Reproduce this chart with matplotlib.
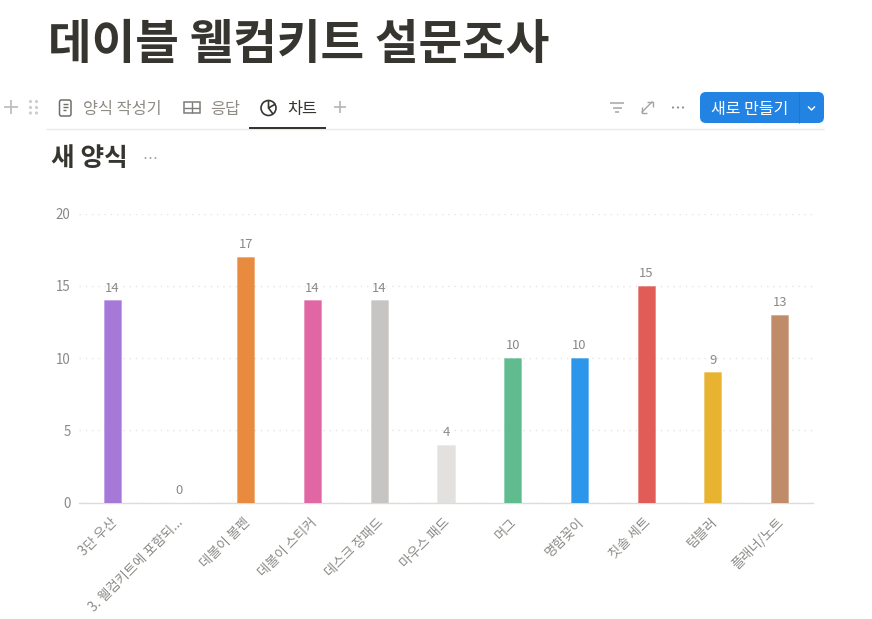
import matplotlib
matplotlib.use('Agg')
import matplotlib.pyplot as plt
from matplotlib.patches import Circle, FancyBboxPatch, Rectangle
from matplotlib.transforms import ScaledTranslation

plt.rcParams['font.family'] = ['Noto Sans CJK KR', 'DejaVu Sans']

W, H = 872, 619

categories = ['3단 우산', '3. 웰컴키트에 포함되...', '데볼이 볼펜', '데볼이 스티커', '데스크 장패드',
              '마우스 패드', '머그', '명함꽂이', '칫솔 세트', '텀블러', '플래너/노트']
values = [14, 0, 17, 14, 14, 4, 10, 10, 15, 9, 13]
colors = ['#a678d8', '#a678d8', '#e98b3f', '#e066a4', '#c6c5c3', '#e2e1df',
          '#60bb8e', '#2b96ea', '#e25c57', '#e8b330', '#bf8b68']
yticks = [0, 5, 10, 15, 20]
tabs = ['양식 작성기', '응답', '차트']

TEXT = '#37352f'
GREY = '#8a8985'
ICON = '#a5a4a1'


def pt(px):
    return px * 72 / 100


fig = plt.figure(figsize=(W / 100, H / 100), dpi=100, facecolor='white')

# page chrome lives in a pixel-coordinate overlay
ui = fig.add_axes([0, 0, 1, 1])
ui.set_xlim(0, W)
ui.set_ylim(H, 0)
ui.axis('off')

ui.text(48, 45, '데이블 웰컴키트 설문조사', fontsize=pt(47.5), fontweight='bold', color=TEXT,
        va='center', ha='left')
ui.text(51, 159, '새 양식', fontsize=pt(25.7), fontweight='bold', color=TEXT, va='center', ha='left')


def line(xs, ys, color=ICON, lw=1.1):
    ui.plot(xs, ys, color=color, lw=lw, solid_capstyle='butt')


for dx in (145.5, 150.5, 155.5):
    ui.add_patch(Circle((dx, 158), 1.0, color='#a5a4a1', lw=0))

# add block + drag handle
line([4, 18], [107, 107], '#c0bfbc', 1.3)
line([11, 11], [100, 114], '#c0bfbc', 1.3)
for dx in (30.5, 36.5):
    for dy in (101.5, 107.5, 113):
        ui.add_patch(Circle((dx, dy), 1.6, color='#cfcecb', lw=0))

# form icon
ui.add_patch(FancyBboxPatch((59.5, 100), 11.5, 16, boxstyle='round,pad=0,rounding_size=2',
                            fc='none', ec='#6f6e6a', lw=1.1))
line([62.5, 68], [104, 104], '#6f6e6a', 1)
line([62.5, 68], [107, 107], '#6f6e6a', 1)
line([62.5, 65.5], [110, 110], '#6f6e6a', 1)
ui.text(83, 109.5, tabs[0], fontsize=pt(16.3), color='#8f8b85', va='center', ha='left')

# table icon
ui.add_patch(Rectangle((184, 102), 16, 11, fc='none', ec='#7d7c78', lw=1.1))
line([184, 200], [107.5, 107.5], '#7d7c78', 1)
line([192, 192], [102, 113], '#7d7c78', 1)
ui.text(210, 109.5, tabs[1], fontsize=pt(16.3), color='#8f8b85', va='center', ha='left')

# chart icon
ui.add_patch(Circle((268.5, 108), 7.5, fc='none', ec=TEXT, lw=1.2))
line([268.5, 268.5, 275.5], [100.5, 108, 104], TEXT, 1.2)
line([268.5, 273], [108, 114], TEXT, 1.2)
ui.text(287, 109.5, tabs[2], fontsize=pt(16.3), color=TEXT, va='center', ha='left')

line([334, 346], [107, 107], '#b5b4b1', 1.2)
line([340, 340], [101, 113], '#b5b4b1', 1.2)

# tab underline + divider
line([46, 824], [129.4, 129.4], '#e9e9e7', 1)
ui.add_patch(Rectangle((249, 127), 77, 2, fc=TEXT, lw=0, zorder=3))

# toolbar icons
line([610, 624], [103, 103], ICON, 1.1)
line([612.5, 621.5], [107.5, 107.5], ICON, 1.1)
line([615, 619], [112, 112], ICON, 1.1)
line([641.5, 652.5], [112.5, 101.5], ICON, 1)
line([647, 652.5, 652.5], [101.5, 101.5, 107], ICON, 1)
line([641.5, 641.5, 647], [107, 112.5, 112.5], ICON, 1)
for dx in (673, 678, 683):
    ui.add_patch(Circle((dx, 107.5), 1.1, color='#8f8e8b', lw=0))

# new-entry button
ui.add_patch(FancyBboxPatch((700, 92), 124, 31, boxstyle='round,pad=0,rounding_size=6',
                            fc='#2383e2', ec='none', lw=0))
line([798.5, 798.5], [92, 123], '#1f76cc', 0.8)
ui.text(749.5, 109.5, '새로 만들기', fontsize=pt(16), color='white', va='center', ha='center')
line([808, 811.5, 815], [106.5, 110, 106.5], 'white', 1)

# bar chart
x0, x1, y_top, y_bot = 79, 813, 213.5, 502.5
ax = fig.add_axes([x0 / W, 1 - y_bot / H, (x1 - x0) / W, (y_bot - y_top) / H])
ax.patch.set_alpha(0)
positions = list(range(len(categories)))
bars = ax.bar(positions, values, width=17 / 66.7, color=colors, zorder=3)
for bar, col in zip(bars, colors):
    # pale halo around each bar
    bar.set_edgecolor(matplotlib.colors.to_rgba(col, 0.35))
    bar.set_linewidth(0.7)
ax.set_xlim(-0.5, len(categories) - 0.5)
ax.set_ylim(0, 20)

ax.set_yticks(yticks)
ax.set_xticks(positions)
ax.set_xticklabels(categories, rotation=45, ha='right', rotation_mode='anchor')
ax.tick_params(axis='both', length=0, labelsize=pt(13.3), labelcolor=GREY)
ax.tick_params(axis='x', pad=9)
ax.tick_params(axis='y', pad=6)
nudge = ScaledTranslation(-3 / 100, 0, fig.dpi_scale_trans)
for lab in ax.get_xticklabels():
    lab.set_transform(lab.get_transform() + nudge)

ax.grid(axis='y', color='#e6e5e3', lw=1, linestyle=(0, (1, 3.5)), zorder=0)
ax.set_axisbelow(True)
for side in ('top', 'right', 'left'):
    ax.spines[side].set_visible(False)
ax.spines['bottom'].set_color('#dddcda')
ax.spines['bottom'].set_linewidth(1)

for pos, val in zip(positions, values):
    ax.annotate(str(val), (pos, val), xytext=(0, 4), textcoords='offset points', ha='center',
                va='bottom', fontsize=pt(13), color=GREY, zorder=4)

fig.savefig('out.png', dpi=100)
